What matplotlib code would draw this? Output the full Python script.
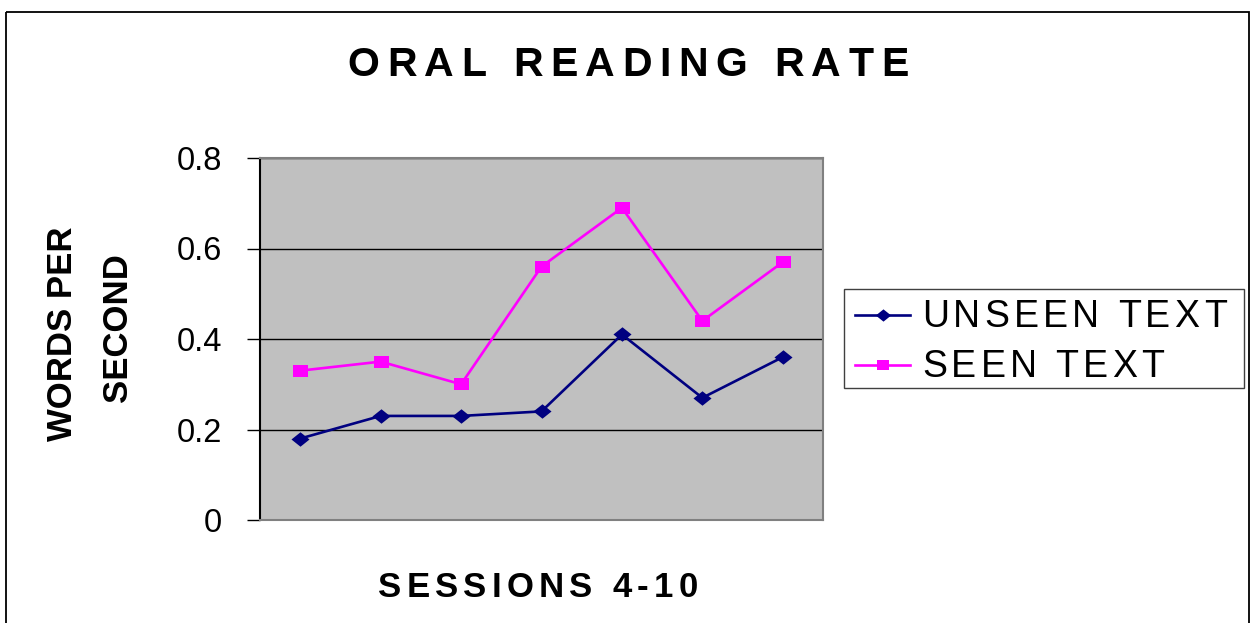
import matplotlib
matplotlib.use("Agg")
import matplotlib.pyplot as plt
from matplotlib import font_manager, transforms as mtransforms
from matplotlib.ft2font import FT2Font
from matplotlib.lines import Line2D
from matplotlib.patches import Rectangle
from matplotlib.path import Path

# reading rate per session (words per second)
sessions = [4, 5, 6, 7, 8, 9, 10]
unseen_text = [0.18, 0.23, 0.23, 0.24, 0.41, 0.27, 0.36]
seen_text = [0.33, 0.35, 0.30, 0.56, 0.69, 0.44, 0.57]
series_labels = ["UNSEEN TEXT", "SEEN TEXT"]
series_colors = ["#000080", "#FF00FF"]
y_ticks = [0, 0.2, 0.4, 0.6, 0.8]
y_tick_labels = ["0", "0.2", "0.4", "0.6", "0.8"]

W, H = 1252, 623
FONT = "Liberation Sans"

fig = plt.figure(figsize=(W / 100, H / 100), dpi=100)
# pixel coordinates measured from the top-left corner of the figure
px = mtransforms.Affine2D().scale(1 / W, -1 / H).translate(0, 1) + fig.transFigure

DIAMOND = Path([(-1, 0), (0, 0.8), (1, 0), (0, -0.8), (-1, 0)], closed=True)
SQUARE = Path([(-1, -0.8), (1, -0.8), (1, 0.8), (-1, 0.8), (-1, -0.8)], closed=True)
markers = [DIAMOND, SQUARE]
marker_sizes = [13, 10.8]


def spaced_text(x, y, s, size, spacing, weight="normal", ha="center"):
    """Draw s on the baseline at (x, y) with extra letter spacing in pixels."""
    prop = font_manager.FontProperties(family=FONT, size=size, weight=weight)
    font = FT2Font(font_manager.findfont(prop))
    font.set_size(size, fig.dpi)
    adv = [font.load_char(ord(c)).linearHoriAdvance / 65536 for c in s]
    total = sum(adv) + spacing * (len(s) - 1)
    pos = {"left": 0, "center": -total / 2, "right": -total}[ha]
    for c, a in zip(s, adv):
        if c != " ":
            fig.text(x, y, c, fontproperties=prop, ha="left", va="baseline",
                     transform=mtransforms.offset_copy(px, fig=fig, x=pos, y=0, units="dots"))
        pos += a + spacing


ax = fig.add_axes([260 / W, 1 - 520 / H, 563 / W, 362 / H])
ax.set_facecolor("#C0C0C0")

xs = list(range(len(sessions)))
for vals, color, marker, ms, label in zip([unseen_text, seen_text], series_colors,
                                          markers, marker_sizes, series_labels):
    ax.plot(xs, vals, color=color, lw=1.9, marker=marker, markersize=ms,
            markeredgewidth=0, label=label, zorder=3)

ax.set_xlim(-0.5, len(sessions) - 0.5)
ax.set_ylim(0, 0.8)
ax.set_yticks(y_ticks)
ax.set_yticklabels(y_tick_labels, fontfamily=FONT, fontsize=23.5)
ax.set_xticks([])
ax.tick_params(axis="y", direction="out", length=9.4, width=1, color="black", pad=18)
ax.yaxis.grid(True, color="black", lw=1.0)
ax.set_axisbelow(True)

for name, spine in ax.spines.items():
    spine.set_linewidth(1.5)
    spine.set_color("black" if name == "left" else "#808080")

# title and axis titles
spaced_text(628, 76, "ORAL READING RATE", size=29.5, spacing=7.6, weight="bold")
spaced_text(538, 597, "SESSIONS 4-10", size=25, spacing=5.2, weight="bold")
fig.text(72, 333.5, "WORDS PER", transform=px, rotation=90, rotation_mode="anchor",
         ha="center", va="baseline", fontfamily=FONT, fontsize=25, fontweight="bold")
fig.text(127, 328, "SECOND", transform=px, rotation=90, rotation_mode="anchor",
         ha="center", va="baseline", fontfamily=FONT, fontsize=25, fontweight="bold")

# legend box
fig.add_artist(Rectangle((844, 289), 400, 99, transform=px, fill=False,
                         edgecolor="#404040", lw=1.0))
for i, (color, marker, ms, label) in enumerate(zip(series_colors, markers,
                                                   marker_sizes, series_labels)):
    y = 315 + 50 * i
    fig.add_artist(Line2D([855, 882.5, 910], [y, y, y], transform=px, color=color, lw=1.9,
                          marker=marker, markersize=ms * 0.85, markeredgewidth=0,
                          markevery=[1]))
    spaced_text(922, y + 12, label, size=27, spacing=4.2, ha="left")

# outer chart border
fig.add_artist(Rectangle((6, 12), 1243, 700, transform=px, fill=False,
                         edgecolor="black", lw=1.3, clip_on=False))

fig.savefig("out.png", dpi=100)
